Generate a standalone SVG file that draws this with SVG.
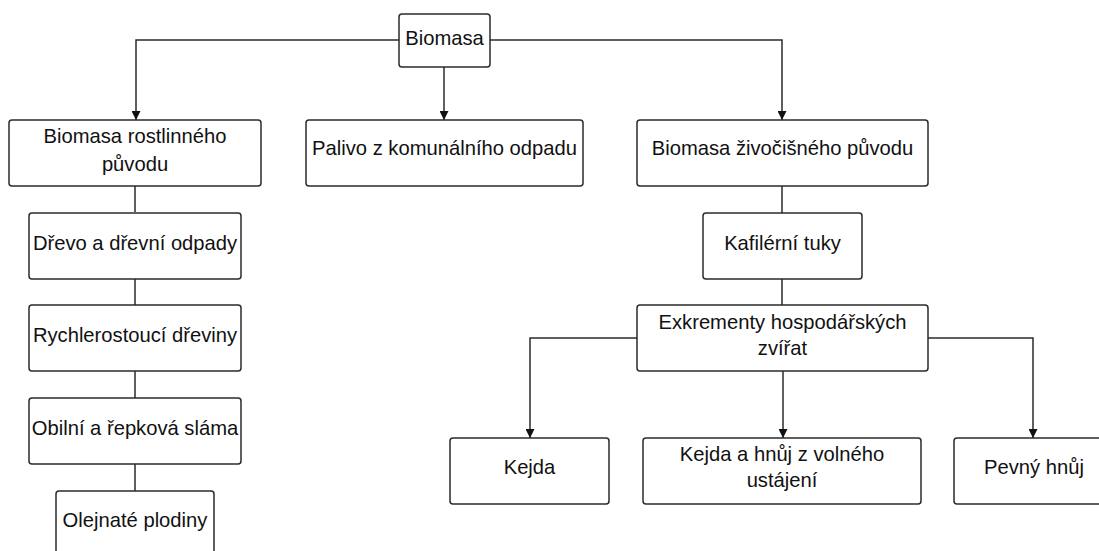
<svg xmlns="http://www.w3.org/2000/svg" width="1099" height="551" viewBox="0 0 1099 551">
<style>
.box{fill:#fff;stroke:#2b2b2b;stroke-width:1.5}
.t{font-family:"Liberation Sans",Arial,sans-serif;font-size:20.2px;fill:#111;text-anchor:middle}
.c{fill:none;stroke:#2b2b2b;stroke-width:1.5}
</style>
<defs>
<marker id="ah" viewBox="0 0 10 10" refX="10" refY="5" markerWidth="9" markerHeight="9" markerUnits="userSpaceOnUse" orient="auto">
<path d="M0,0 L10,5 L0,10 z" fill="#111"/>
</marker>
</defs>
<rect width="1099" height="551" fill="#fff"/>
<g id="connectors">
<path class="c" d="M399,40 H136 V120" marker-end="url(#ah)"/>
<path class="c" d="M490,40 H782 V120" marker-end="url(#ah)"/>
<path class="c" d="M444,67 V120" marker-end="url(#ah)"/>
<path class="c" d="M135,186 V212 M135,279 V305 M135,371 V398 M135,464 V491"/>
<path class="c" d="M782,186 V213 M782,279 V305"/>
<path class="c" d="M637,338 H530 V438" marker-end="url(#ah)"/>
<path class="c" d="M928,338 H1033 V438" marker-end="url(#ah)"/>
<path class="c" d="M783,371 V438" marker-end="url(#ah)"/>
</g>
<g id="n-biomasa"><rect class="box" x="399" y="14" width="91" height="53" rx="3"/><text class="t" x="444.5" y="45">Biomasa</text></g>
<g id="n-rostl"><rect class="box" x="9" y="120" width="252" height="66" rx="3"/><text class="t" x="135" y="143">Biomasa rostlinného</text><text class="t" x="135" y="171">původu</text></g>
<g id="n-palivo"><rect class="box" x="306" y="120" width="277" height="66" rx="3"/><text class="t" x="444.5" y="155">Palivo z komunálního odpadu</text></g>
<g id="n-zivoc"><rect class="box" x="637" y="120" width="291" height="66" rx="3"/><text class="t" x="782.5" y="155">Biomasa živočišného původu</text></g>
<g id="n-drevo"><rect class="box" x="29" y="213" width="212" height="66" rx="3"/><text class="t" x="135" y="250">Dřevo a dřevní odpady</text></g>
<g id="n-rychl"><rect class="box" x="29" y="305" width="212" height="66" rx="3"/><text class="t" x="135" y="342">Rychlerostoucí dřeviny</text></g>
<g id="n-obilni"><rect class="box" x="29" y="398" width="212" height="66" rx="3"/><text class="t" x="135" y="435">Obilní a řepková sláma</text></g>
<g id="n-olej"><rect class="box" x="56" y="491" width="158" height="66" rx="3"/><text class="t" x="135" y="527">Olejnaté plodiny</text></g>
<g id="n-kafil"><rect class="box" x="703" y="213" width="159" height="66" rx="3"/><text class="t" x="782.5" y="250">Kafilérní tuky</text></g>
<g id="n-exkr"><rect class="box" x="637" y="305" width="291" height="66" rx="3"/><text class="t" x="782.5" y="329">Exkrementy hospodářských</text><text class="t" x="782.5" y="355">zvířat</text></g>
<g id="n-kejda"><rect class="box" x="450" y="438" width="159" height="66" rx="3"/><text class="t" x="529.5" y="474">Kejda</text></g>
<g id="n-kejdahnuj"><rect class="box" x="643" y="438" width="278" height="66" rx="3"/><text class="t" x="782" y="461">Kejda a hnůj z volného</text><text class="t" x="782" y="487">ustájení</text></g>
<g id="n-pevny"><rect class="box" x="954" y="438" width="160" height="66" rx="3"/><text class="t" x="1034" y="474">Pevný hnůj</text></g>
</svg>
